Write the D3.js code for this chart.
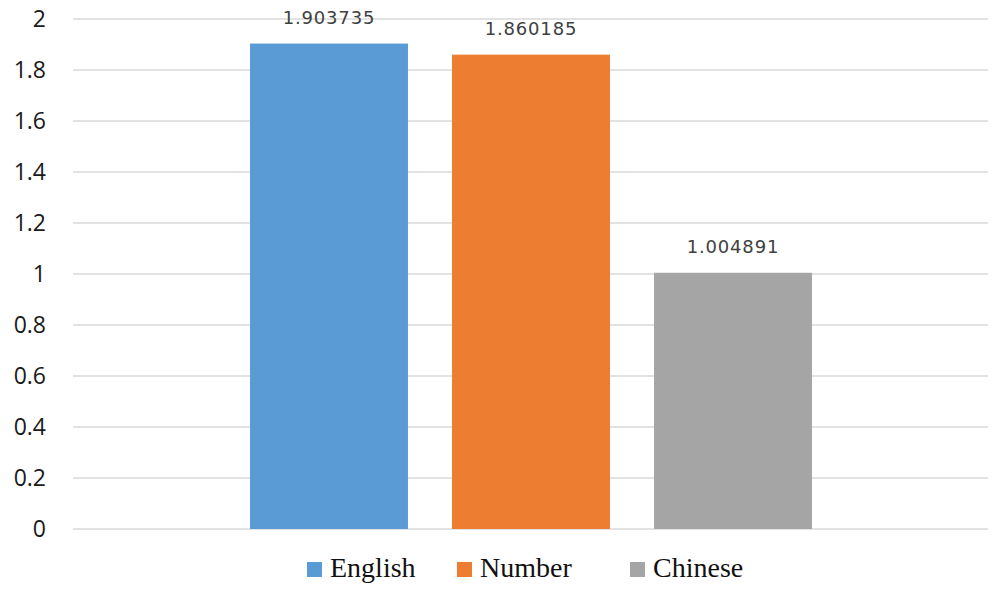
<!DOCTYPE html>
<html lang="en">
  <head>
    <script src="https://d3js.org/d3.v7.min.js"></script>
    <style>
      body { margin: 0; background: #fff; }
    </style>
  </head>
  <body>
    <script>
      // data
      var series = ["English", "Number", "Chinese"];
      var values = [1.903735, 1.860185, 1.004891];
      var colors = ["#5B9BD5", "#ED7D31", "#A5A5A5"];
      var yTicks = [0, 0.2, 0.4, 0.6, 0.8, 1, 1.2, 1.4, 1.6, 1.8, 2];

      var width = 995,
        height = 592;

      var svg = d3
        .select("body")
        .append("svg")
        .attr("width", width)
        .attr("height", height);

      var y = d3.scaleLinear().domain([0, 2]).range([529, 19]);

      // one category, three series side by side
      var x = d3
        .scaleBand()
        .domain(series)
        .range([228, 834])
        .paddingInner(0.218)
        .paddingOuter(0.109);

      // gridlines
      svg
        .selectAll("line.grid")
        .data(yTicks)
        .join("line")
        .attr("class", "grid")
        .attr("x1", 73)
        .attr("x2", 988)
        .attr("y1", function (d) {
          return y(d);
        })
        .attr("y2", function (d) {
          return y(d);
        })
        .attr("stroke", "#d9d9d9")
        .attr("stroke-width", 1.5);

      // y tick labels
      svg
        .selectAll("text.tick")
        .data(yTicks)
        .join("text")
        .attr("class", "tick")
        .attr("x", 46)
        .attr("y", function (d) {
          return y(d);
        })
        .attr("dy", "0.35em")
        .attr("text-anchor", "end")
        .style("font-family", "'Open Sans', sans-serif")
        .style("font-size", "23px")
        .style("font-weight", "500")
        .attr("fill", "#1a1a1a")
        .text(function (d) {
          return d;
        });

      // bars
      svg
        .selectAll("rect.bar")
        .data(values)
        .join("rect")
        .attr("class", "bar")
        .attr("x", function (d, i) {
          return x(series[i]);
        })
        .attr("y", function (d) {
          return y(d);
        })
        .attr("width", x.bandwidth())
        .attr("height", function (d) {
          return y(0) - y(d);
        })
        .attr("fill", function (d, i) {
          return colors[i];
        });

      // value labels
      svg
        .selectAll("text.val")
        .data(values)
        .join("text")
        .attr("class", "val")
        .attr("x", function (d, i) {
          return x(series[i]) + x.bandwidth() / 2;
        })
        .attr("y", function (d) {
          return y(d) - 20;
        })
        .attr("text-anchor", "middle")
        .style("font-family", "'DejaVu Sans', sans-serif")
        .style("font-size", "18px")
        .style("letter-spacing", "0.8px")
        .attr("fill", "#404040")
        .text(function (d) {
          return d.toFixed(6);
        });

      // legend
      var legendX = [307, 457, 630];
      var legend = svg
        .selectAll("g.legend")
        .data(series)
        .join("g")
        .attr("class", "legend")
        .attr("transform", function (d, i) {
          return "translate(" + legendX[i] + ",0)";
        });

      legend
        .append("rect")
        .attr("y", 562)
        .attr("width", 15)
        .attr("height", 15)
        .attr("fill", function (d, i) {
          return colors[i];
        });

      legend
        .append("text")
        .attr("x", 23)
        .attr("y", 577)
        .style("font-family", "'Liberation Serif', 'Times New Roman', serif")
        .style("font-size", "28px")
        .attr("fill", "#111")
        .text(function (d) {
          return d;
        });
    </script>
  </body>
</html>
